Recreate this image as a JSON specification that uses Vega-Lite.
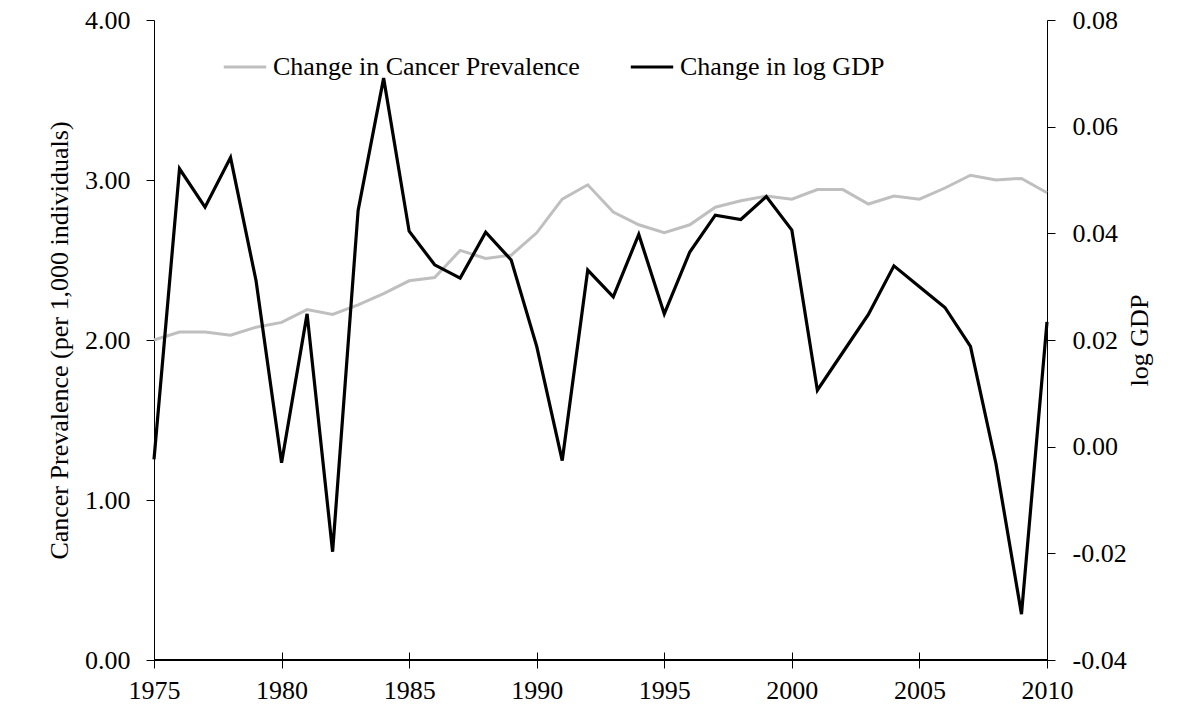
{
  "$schema": "https://vega.github.io/schema/vega-lite/v6.json",
  "autosize": {"type": "none"},
  "padding": {"left": 154, "top": 20, "right": 149, "bottom": 48},
  "width": 893,
  "height": 640,
  "background": "white",
  "config": {
    "view": {"stroke": null},
    "font": "Liberation Serif",
    "axis": {
      "labelFont": "Liberation Serif",
      "titleFont": "Liberation Serif",
      "labelFontSize": 26,
      "titleFontSize": 26,
      "titleFontWeight": "normal",
      "labelColor": "#000000",
      "titleColor": "#000000",
      "domainColor": "#000000",
      "tickColor": "#000000",
      "grid": false
    }
  },
  "data": {
    "values": [
      {"year": 1975, "cancer": 2.00, "gdp": -0.0024},
      {"year": 1976, "cancer": 2.05, "gdp": 0.0521},
      {"year": 1977, "cancer": 2.05, "gdp": 0.0449},
      {"year": 1978, "cancer": 2.03, "gdp": 0.0542},
      {"year": 1979, "cancer": 2.08, "gdp": 0.0311},
      {"year": 1980, "cancer": 2.11, "gdp": -0.0030},
      {"year": 1981, "cancer": 2.19, "gdp": 0.0249},
      {"year": 1982, "cancer": 2.16, "gdp": -0.0197},
      {"year": 1983, "cancer": 2.22, "gdp": 0.0443},
      {"year": 1984, "cancer": 2.29, "gdp": 0.0691},
      {"year": 1985, "cancer": 2.37, "gdp": 0.0404},
      {"year": 1986, "cancer": 2.39, "gdp": 0.0341},
      {"year": 1987, "cancer": 2.56, "gdp": 0.0316},
      {"year": 1988, "cancer": 2.51, "gdp": 0.0402},
      {"year": 1989, "cancer": 2.53, "gdp": 0.0350},
      {"year": 1990, "cancer": 2.67, "gdp": 0.0188},
      {"year": 1991, "cancer": 2.88, "gdp": -0.0026},
      {"year": 1992, "cancer": 2.97, "gdp": 0.0331},
      {"year": 1993, "cancer": 2.80, "gdp": 0.0281},
      {"year": 1994, "cancer": 2.72, "gdp": 0.0398},
      {"year": 1995, "cancer": 2.67, "gdp": 0.0249},
      {"year": 1996, "cancer": 2.72, "gdp": 0.0365},
      {"year": 1997, "cancer": 2.83, "gdp": 0.0434},
      {"year": 1998, "cancer": 2.87, "gdp": 0.0426},
      {"year": 1999, "cancer": 2.90, "gdp": 0.0469},
      {"year": 2000, "cancer": 2.88, "gdp": 0.0406},
      {"year": 2001, "cancer": 2.94, "gdp": 0.0106},
      {"year": 2002, "cancer": 2.94, "gdp": 0.0177},
      {"year": 2003, "cancer": 2.85, "gdp": 0.0248},
      {"year": 2004, "cancer": 2.90, "gdp": 0.0339},
      {"year": 2005, "cancer": 2.88, "gdp": 0.0300},
      {"year": 2006, "cancer": 2.95, "gdp": 0.0261},
      {"year": 2007, "cancer": 3.03, "gdp": 0.0188},
      {"year": 2008, "cancer": 3.00, "gdp": -0.0032},
      {"year": 2009, "cancer": 3.01, "gdp": -0.0314},
      {"year": 2010, "cancer": 2.92, "gdp": 0.0234}
    ]
  },
  "encoding": {
    "x": {
      "field": "year",
      "type": "quantitative",
      "scale": {"domain": [1975, 2010], "nice": false, "zero": false},
      "axis": {
        "title": null,
        "values": [1975, 1980, 1985, 1990, 1995, 2000, 2005, 2010],
        "format": "d",
        "offset": -8,
        "domain": false,
        "tickSize": 16,
        "labelPadding": 9,
        "labelFlush": false
      }
    }
  },
  "layer": [
    {
      "layer": [
        {
          "mark": {"type": "line", "strokeWidth": 3},
          "encoding": {
            "y": {
              "field": "cancer",
              "type": "quantitative",
              "scale": {"domain": [0, 4], "nice": false},
              "axis": {
                "title": "Cancer Prevalence (per 1,000 individuals)",
                "values": [0, 1, 2, 3, 4],
                "format": ".2f",
                "orient": "left",
                "tickSize": 8,
                "labelPadding": 16,
                "titlePadding": 12,
                "labelFlush": false
              }
            },
            "stroke": {
              "datum": "Change in Cancer Prevalence",
              "type": "nominal",
              "scale": {
                "domain": ["Change in Cancer Prevalence", "Change in log GDP"],
                "range": ["#BFBFBF", "#000000"]
              },
              "legend": {
                "title": null,
                "orient": "none",
                "direction": "horizontal",
                "legendX": 68,
                "legendY": 24,
                "symbolType": "stroke",
                "symbolSize": 1800,
                "symbolStrokeWidth": 3,
                "labelFont": "Liberation Serif",
                "labelFontSize": 26,
                "labelColor": "#000000",
                "labelLimit": 500,
                "labelOffset": 5,
                "columnPadding": 44
              }
            }
          }
        },
        {
          "mark": {"type": "rule", "color": "#000000", "strokeWidth": 1},
          "encoding": {
            "x": {"datum": 1975, "type": "quantitative"},
            "x2": {"datum": 2010},
            "y": {"datum": 0, "type": "quantitative"}
          }
        }
      ]
    },
    {
      "mark": {"type": "line", "strokeWidth": 3.2},
      "encoding": {
        "y": {
          "field": "gdp",
          "type": "quantitative",
          "scale": {"domain": [-0.04, 0.08], "nice": false, "zero": false},
          "axis": {
            "title": "log GDP",
            "values": [-0.04, -0.02, 0, 0.02, 0.04, 0.06, 0.08],
            "labelExpr": "replace(format(datum.value, '.2f'), '\u2212', '-')",
            "orient": "right",
            "tickSize": 8,
            "labelPadding": 17,
            "titlePadding": 26,
            "titleAngle": 270,
            "labelFlush": false
          }
        },
        "stroke": {"datum": "Change in log GDP", "type": "nominal"}
      }
    }
  ],
  "resolve": {"scale": {"y": "independent"}}
}
